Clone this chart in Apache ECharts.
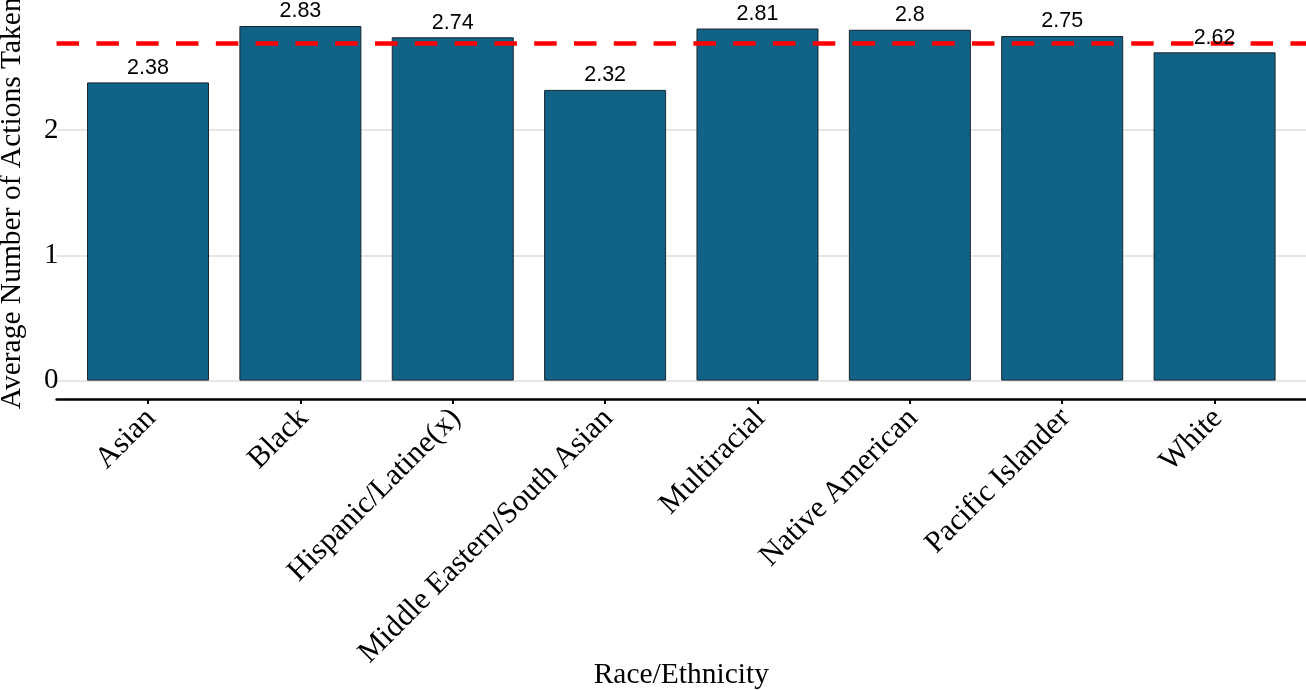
<!DOCTYPE html>
<html>
<head>
<meta charset="utf-8">
<script src="https://cdn.jsdelivr.net/npm/echarts@6/dist/echarts.min.js"></script>
<style>
  html, body { margin: 0; padding: 0; background: #ffffff; }
  #chart { width: 1306px; height: 690px; }
</style>
</head>
<body>
<div id="chart"></div>
<script>
// ---- data ----
const categories = ["Asian", "Black", "Hispanic/Latine(x)", "Middle Eastern/South Asian",
                    "Multiracial", "Native American", "Pacific Islander", "White"];
const values = [2.38, 2.83, 2.74, 2.32, 2.81, 2.8, 2.75, 2.62];
const meanLine = 2.69;
const yTicks = [0, 1, 2];
const xPositions = [1, 2, 3, 4, 5, 6, 7, 8];

const barData = xPositions.map((p, i) => [p, values[i]]);

const chart = echarts.init(document.getElementById('chart'), null, { renderer: 'canvas' });
const serif = '"Liberation Serif", "Times New Roman", serif';
const sans = '"Liberation Sans", Arial, sans-serif';

chart.setOption({
  animation: false,
  backgroundColor: '#ffffff',
  grid: { left: 56.6, right: 0, top: 26, bottom: 309.4, containLabel: false, outerBoundsMode: 'none' },
  xAxis: {
    type: 'value',
    min: 0.4,
    max: 8.6,
    offset: 18.4,
    name: 'Race/Ethnicity',
    nameLocation: 'middle',
    nameGap: 261,
    nameMoveOverlap: false,
    nameTextStyle: { fontFamily: serif, fontSize: 29.5, color: '#000' },
    axisLine: { show: true, onZero: false, lineStyle: { color: '#000', width: 2.5 } },
    axisTick: { show: true, length: 5, lineStyle: { color: '#000', width: 2 }, customValues: xPositions },
    splitLine: { show: false },
    axisLabel: {
      customValues: xPositions,
      formatter: v => categories[Math.round(v) - 1] || '',
      rotate: 45,
      align: 'right',
      verticalAlign: 'top',
      margin: -4,
      padding: [0, 11, 0, 0],
      fontFamily: serif,
      fontSize: 30.5,
      color: '#000'
    }
  },
  yAxis: {
    type: 'value',
    min: 0,
    max: 2.83,
    interval: 1,
    name: 'Average Number of Actions Taken',
    nameLocation: 'middle',
    nameGap: 29,
    nameTextStyle: { fontFamily: serif, fontSize: 29.5, color: '#000' },
    axisLine: { show: false },
    axisTick: { show: false },
    splitLine: {
      show: true,
      showMaxLine: false,
      lineStyle: { color: ['#e6e6e6', '#e6e6e6', '#e6e6e6', 'rgba(0,0,0,0)'], width: 2 }
    },
    axisLabel: {
      showMaxLabel: false,
      formatter: v => (yTicks.indexOf(v) >= 0 ? String(v) : ''),
      margin: -2,
      fontFamily: serif,
      fontSize: 29,
      color: '#000'
    }
  },
  series: [{
    type: 'bar',
    data: barData,
    barWidth: 122,
    z: 2,
    itemStyle: { color: '#106287', borderColor: '#1a2630', borderWidth: 1 },
    label: { show: false },
    markLine: {
      silent: true,
      symbol: ['none', 'none'],
      label: { show: false },
      lineStyle: { color: '#ff0000', width: 4.5, type: [22.5, 17.3], opacity: 1 },
      data: [{ yAxis: meanLine }]
    }
  }, {
    type: 'scatter',
    data: barData,
    z: 10,
    silent: true,
    symbol: 'rect',
    symbolSize: 1,
    itemStyle: { color: 'rgba(0,0,0,0)' },
    label: {
      show: true,
      position: 'top',
      distance: 3,
      formatter: p => String(p.value[1]),
      fontFamily: sans,
      fontSize: 21.5,
      color: '#000',
      opacity: 1
    }
  }]
});
</script>
</body>
</html>
